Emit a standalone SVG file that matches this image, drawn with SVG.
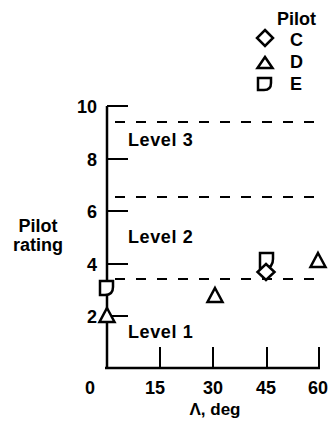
<svg xmlns="http://www.w3.org/2000/svg" width="329" height="429" viewBox="0 0 329 429">
<style>
text{font-family:"Liberation Sans",Arial,sans-serif;font-weight:bold;font-size:18px;fill:#000}
.ax{stroke:#000;stroke-width:2.5;fill:none}
.tk{stroke:#000;stroke-width:2;fill:none}
.dash{stroke:#000;stroke-width:2;stroke-dasharray:10 11;fill:none}
.mk{stroke:#000;stroke-width:2.5;fill:#fff;stroke-linejoin:miter}
.r{text-anchor:end}
.m{text-anchor:middle}
.lv{letter-spacing:0.6px}
.xt{font-size:17px}
</style>
<rect width="329" height="429" fill="#fff"/>
<g id="axes">
<path class="ax" d="M107,106 V368 M105,368 H320"/>
<path class="tk" d="M107,106 H128 M107,159 H128 M107,211 H128 M107,264 H128 M107,316 H128"/>
<path class="tk" d="M160,368 V347 M213,368 V347 M267,368 V347 M319,368 V347"/>
</g>
<g id="y-labels">
<text class="r" x="97" y="113">10</text>
<text class="r" x="97" y="166">8</text>
<text class="r" x="97" y="218">6</text>
<text class="r" x="97" y="271">4</text>
<text class="r" x="97" y="323">2</text>
<text class="m" x="38" y="232">Pilot</text>
<text class="m" x="38" y="251">rating</text>
</g>
<g id="x-labels">
<text class="m" x="90" y="394">0</text>
<text class="m" x="155" y="394">15</text>
<text class="m" x="213" y="394">30</text>
<text class="m" x="266" y="394">45</text>
<text class="m" x="318" y="394">60</text>
<text class="m xt" x="215" y="415">Λ, deg</text>
</g>
<g id="levels">
<path class="dash" d="M115,122 H318 M115,197 H318 M115,279 H318"/>
<text class="lv" x="128" y="146">Level 3</text>
<text class="lv" x="128" y="243">Level 2</text>
<text class="lv" x="128" y="338">Level 1</text>
</g>
<g id="data">
<path class="mk" d="M100,281 H113 V287 Q113,295 105,295 H100 Z"/>
<path class="mk" d="M107,308 L114.5,322 L99.5,322 Z"/>
<path class="mk" d="M215,288 L222.5,302 L207.5,302 Z"/>
<path class="mk" d="M260,253 H273 V259 Q273,268 265,268 H260 Z"/>
<path class="mk" d="M266,264 L274.5,272 L266,280 L257.5,272 Z"/>
<path class="mk" d="M318,253 L325.5,267 L310.5,267 Z"/>
</g>
<g id="legend">
<text x="277" y="25">Pilot</text>
<path class="mk" d="M265,30 L273,38 L265,46 L257,38 Z"/>
<text x="290" y="46">C</text>
<path class="mk" d="M265,57 L272.5,68 L257.5,68 Z"/>
<text x="290" y="68">D</text>
<path class="mk" d="M258,78 H271 V83 Q271,90 264,90 H258 Z"/>
<text x="290" y="90">E</text>
</g>
</svg>
